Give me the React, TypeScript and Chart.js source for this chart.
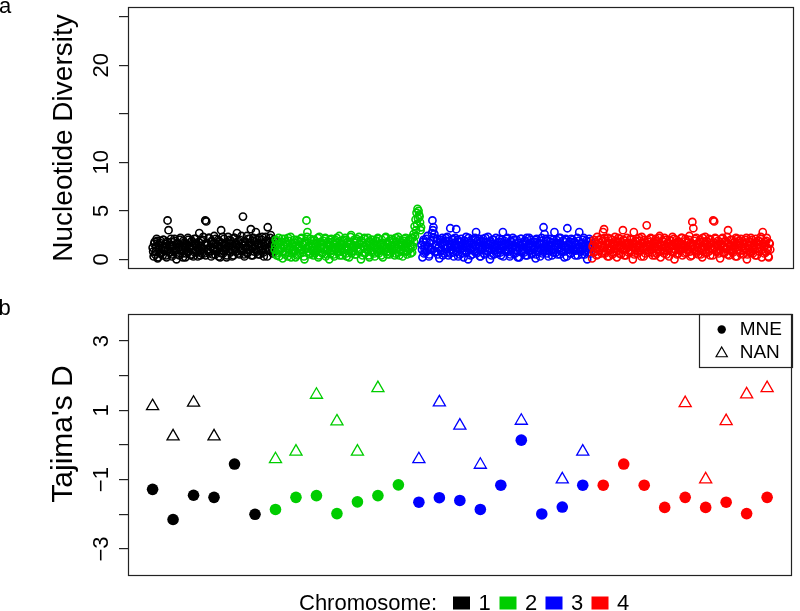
import React, { useEffect, useRef } from "react";
import { Chart, registerables } from "chart.js";

Chart.register(...registerables);

const FONT = '"Liberation Sans", Arial, Helvetica, sans-serif';

// ---- Panel a: nucleotide diversity per window, two interleaved window sets per chromosome ----
const piChr1 = [
  1.2, 0.3, 1.8, 0.8, 2.1, 0.1, 1.5, 0.6, 1.9, 1.1, 0.4, 2.0, 0.9, 1.6, 0.2, 4.0, 3.0, 1.3, 0.7, 1.8,
  0.5, 1.4, 2.1, 0.9, 0.0, 1.7, 1.2, 0.4, 2.2, 1.0, 0.6, 1.9, 1.3, 0.2, 1.6, 0.8, 2.0, 1.1, 0.5, 1.8,
  1.4, 0.3, 2.1, 0.9, 1.6, 0.7, 1.2, 2.7, 0.4, 1.9, 1.0, 2.3, 0.6, 4.0, 3.9, 1.5, 0.8, 2.2, 1.3, 0.3,
  1.8, 1.1, 2.4, 0.5, 1.6, 0.9, 2.0, 1.3, 0.2, 3.0, 1.7, 0.6, 2.1, 1.0, 1.5, 0.4, 2.3, 1.2, 0.8, 1.9,
  0.3, 1.4, 2.2, 1.0, 1.7, 2.7, 0.6, 1.3, 2.0, 0.9, 1.6, 4.4, 0.5, 1.8, 1.2, 2.4, 0.7, 1.5, 2.1, 3.1,
  1.1, 0.4, 1.9, 1.3, 2.8, 0.8, 1.6, 2.2, 0.5, 1.4, 2.0, 1.0, 0.3, 1.7, 2.3, 1.2, 3.3, 0.9, 1.8, 2.5, 1.1, 0.6, 2.0,
];
const piChr1b = [
  0.8, 1.6, 0.5, 1.3, 1.9, 0.2, 1.0, 1.7, 0.6, 1.4, 2.0, 0.9, 1.2, 0.4, 1.8, 1.1, 0.7, 1.5, 2.1, 0.3,
  1.3, 0.8, 1.9, 1.0, 1.6, 0.5, 1.2, 2.0, 0.9, 1.4, 0.2, 1.7, 1.1, 0.6, 1.5, 2.2, 0.8, 1.3, 0.4, 1.9,
  1.0, 1.6, 0.7, 2.1, 1.2, 0.3, 1.8, 0.9, 1.4, 0.6, 2.0, 1.1, 1.5, 0.4, 1.7, 1.0, 2.2, 0.7, 1.3, 1.9,
  0.5, 1.6, 1.0, 2.1, 0.8, 1.4, 0.3, 1.8, 1.2, 0.6, 2.3, 0.9, 1.5, 1.1, 0.2, 1.7, 1.3, 2.0, 0.7, 1.0,
  1.6, 0.4, 2.2, 1.2, 0.8, 1.5, 1.9, 0.5, 1.1, 2.4, 0.9, 1.4, 0.3, 1.8, 1.2, 0.6, 2.1, 1.0, 1.7, 0.4,
  1.3, 2.2, 0.8, 1.5, 1.0, 2.0, 0.5, 1.6, 1.2, 0.9, 2.3, 0.7, 1.4, 1.1, 1.9, 0.3, 1.7, 1.0, 2.2, 1.3, 1.6, 0.8, 1.5,
];
const piChr2 = [
  1.0, 2.0, 0.4, 1.5, 2.2, 0.8, 1.2, 1.8, 0.1, 1.4, 2.1, 0.7, 1.6, 0.3, 1.9, 1.1, 2.3, 0.6, 1.3, 0.9,
  1.7, 0.2, 2.0, 1.2, 0.5, 1.8, 1.0, 2.2, 0.7, 1.5, 0.0, 1.9, 4.0, 2.8, 1.3, 0.6, 2.1, 1.0, 1.6, 0.4,
  2.0, 1.2, 0.8, 1.7, 0.2, 2.3, 1.1, 1.5, 0.6, 1.9, 1.3, 2.2, 0.5, 1.0, 1.8, 0.0, 1.4, 2.1, 0.9, 1.6,
  0.3, 2.0, 1.2, 1.7, 0.7, 2.4, 1.1, 1.5, 0.4, 1.9, 1.0, 2.2, 0.6, 1.3, 1.8, 0.2, 1.6, 2.5, 0.8, 1.2,
  2.0, 0.5, 1.4, 1.9, 0.9, 2.3, 1.1, 0.0, 1.7, 1.3, 2.1, 0.6, 1.5, 1.0, 2.2, 0.4, 1.8, 1.2, 0.7, 2.0,
  1.4, 0.3, 1.9, 1.1, 2.2, 0.6, 1.6, 1.0, 2.0, 0.2, 1.5, 1.3, 2.3, 0.8, 1.7, 1.1, 0.5, 2.1, 1.4, 0.9,
  1.8, 0.4, 2.2, 1.2, 1.6, 0.7, 2.0, 1.0, 1.5, 0.3, 1.9, 1.3, 2.2, 0.8, 1.6, 1.1, 2.0, 0.6, 1.4, 2.2,
  2.6, 3.4, 4.1, 4.8, 5.2, 5.0, 4.4, 3.0,
];
const piChr2b = [
  1.4, 0.6, 1.9, 1.0, 0.3, 1.7, 1.2, 2.1, 0.8, 1.5, 0.5, 1.8, 1.1, 2.2, 0.7, 1.3, 0.2, 1.6, 1.0, 2.0,
  0.9, 1.4, 0.4, 1.9, 1.2, 0.6, 2.1, 1.0, 1.5, 0.3, 1.7, 1.1, 2.3, 0.8, 1.4, 0.5, 1.9, 1.2, 0.9, 2.0,
  0.6, 1.6, 1.0, 2.2, 0.4, 1.3, 1.8, 0.7, 1.5, 1.1, 2.1, 0.3, 1.7, 0.9, 1.4, 2.0, 0.6, 1.2, 1.8, 0.5,
  1.5, 1.0, 2.2, 0.8, 1.3, 0.4, 1.9, 1.1, 1.6, 0.7, 2.0, 1.2, 0.3, 1.8, 1.0, 1.5, 2.3, 0.6, 1.4, 0.9,
  1.7, 0.5, 2.1, 1.2, 0.8, 1.6, 1.0, 1.9, 0.4, 1.3, 2.2, 0.7, 1.5, 1.1, 1.8, 0.2, 1.4, 2.0, 0.9, 1.6,
  0.6, 1.2, 1.9, 0.8, 2.1, 1.0, 1.5, 0.4, 1.7, 1.3, 0.9, 2.2, 1.1, 0.5, 1.6, 1.9, 0.7, 1.4, 1.0, 2.0,
  1.3, 0.6, 1.8, 1.1, 2.3, 0.4, 1.5, 1.0, 1.7, 0.8, 2.1, 1.2, 1.6, 0.5, 1.9, 1.0, 1.4, 2.2, 0.7, 1.3,
  1.8, 2.4, 3.0, 3.6, 4.2, 4.6, 3.8, 3.3,
];
const piChr3 = [
  1.5, 0.2, 2.0, 1.1, 0.7, 1.8, 2.4, 1.3, 0.5, 1.9, 1.0, 4.0, 3.3, 2.6, 1.4, 0.8, 2.1, 1.2, 0.1, 1.7,
  0.9, 2.2, 1.4, 0.6, 1.9, 1.1, 2.3, 0.4, 1.6, 3.2, 1.0, 2.0, 0.7, 1.5, 2.2, 3.1, 1.2, 0.3, 1.8, 1.0,
  2.1, 0.6, 1.4, 1.9, 0.9, 2.3, 1.2, 0.0, 1.7, 1.1, 2.0, 0.5, 1.5, 1.0, 2.2, 2.8, 0.8, 1.6, 1.3, 0.3,
  1.9, 1.1, 2.1, 0.6, 1.4, 1.8, 0.9, 2.3, 1.2, 0.0, 1.6, 1.0, 2.0, 0.5, 1.5, 2.2, 1.3, 0.7, 1.8, 1.1,
  0.4, 2.0, 2.8, 1.2, 1.6, 0.8, 2.1, 1.0, 1.5, 0.3, 1.9, 1.3, 2.2, 0.6, 1.4, 1.0, 2.0, 0.2, 1.7, 1.2,
  2.1, 0.7, 1.5, 1.1, 1.9, 0.4, 2.2, 1.3, 0.9, 1.6, 2.0, 0.5, 1.4, 1.0, 1.8, 0.1, 2.1, 1.2, 0.8, 1.6,
  1.1, 2.2, 0.6, 3.3, 2.6, 1.4, 0.9, 1.9, 0.3, 1.5, 2.1, 1.0, 1.7, 0.7, 2.8, 1.3, 2.0, 0.5, 1.6, 1.1,
  2.2, 0.8, 1.4, 1.9, 0.2, 1.2, 2.0, 3.2, 1.0, 1.6, 0.6, 2.1, 1.3, 0.9, 1.8, 0.4, 1.5, 2.2, 1.1, 2.8,
  1.0, 1.7, 0.5, 2.0, 1.3, 0.8, 1.9, 0.0, 1.4, 2.1, 1.1, 0.6,
];
const piChr3b = [
  1.0, 1.8, 0.6, 1.4, 2.1, 0.9, 1.3, 0.3, 1.7, 1.1, 2.7, 3.0, 2.2, 0.8, 1.5, 1.9, 0.5, 1.2, 2.0, 0.9,
  1.6, 0.4, 1.8, 1.1, 2.2, 0.7, 1.3, 1.9, 0.6, 1.5, 1.0, 2.1, 0.3, 1.7, 1.2, 0.8, 2.0, 1.4, 0.5, 1.8,
  1.1, 1.6, 0.2, 1.9, 1.3, 0.7, 1.5, 2.2, 1.0, 0.4, 1.7, 1.2, 2.0, 0.8, 1.4, 0.6, 1.9, 1.1, 2.1, 0.3,
  1.5, 1.0, 1.8, 0.5, 2.2, 1.3, 0.8, 1.6, 1.1, 1.9, 0.4, 1.4, 2.0, 0.9, 1.2, 0.6, 1.7, 1.0, 2.1, 0.7,
  1.5, 1.3, 0.3, 1.9, 1.0, 1.6, 2.2, 0.8, 1.2, 0.5, 1.8, 1.1, 1.4, 2.0, 0.6, 1.3, 0.9, 1.7, 0.2, 1.5,
  2.1, 1.0, 1.6, 0.7, 1.9, 1.2, 0.4, 1.4, 2.2, 0.9, 1.3, 0.6, 1.8, 1.1, 2.0, 0.5, 1.5, 1.0, 1.7, 0.3,
  1.9, 1.2, 0.8, 1.6, 1.1, 2.1, 0.6, 1.4, 0.9, 1.8, 1.3, 0.4, 2.0, 1.0, 1.5, 0.7, 1.7, 1.2, 2.2, 0.5,
  1.6, 1.0, 1.9, 0.8, 1.3, 2.1, 0.3, 1.5, 1.1, 1.8, 0.6, 1.4, 2.0, 1.0, 1.7, 0.9, 1.2, 0.4, 1.9, 1.3,
  0.8, 1.6, 1.1, 2.2, 0.5, 1.4, 1.0, 1.8, 0.7, 1.5, 1.9, 1.2,
];
const piChr4 = [
  0.1, 1.5, 2.0, 0.8, 1.2, 2.3, 0.5, 1.7, 1.0, 2.1, 1.4, 2.8, 3.1, 0.6, 1.9, 1.1, 2.2, 0.3, 1.6, 1.0,
  2.0, 0.7, 1.4, 2.3, 1.1, 0.2, 1.8, 1.3, 2.1, 0.5, 1.5, 3.0, 1.0, 1.9, 0.4, 2.2, 1.2, 1.7, 0.8, 2.0,
  1.3, 0.0, 2.8, 1.6, 1.0, 2.1, 0.6, 1.4, 1.9, 0.9, 2.3, 1.2, 0.3, 1.7, 1.1, 3.5, 2.0, 0.7, 1.5, 2.2,
  1.0, 0.4, 1.8, 1.3, 2.1, 0.6, 1.6, 1.1, 2.4, 0.2, 1.4, 1.9, 0.9, 2.2, 1.2, 0.5, 1.7, 1.0, 2.0, 1.4,
  0.8, 2.3, 1.1, 0.0, 1.6, 2.0, 1.3, 0.6, 1.8, 1.0, 2.2, 0.4, 1.5, 1.2, 2.1, 0.7, 1.7, 1.0, 2.4, 0.3,
  1.4, 3.85, 3.2, 1.9, 0.9, 2.2, 1.2, 0.5, 1.6, 2.0, 1.1, 0.2, 1.8, 1.3, 2.3, 0.7, 1.5, 1.0, 2.1, 0.4,
  1.7, 1.2, 4.0, 3.9, 2.2, 0.8, 1.4, 1.9, 1.0, 0.1, 1.6, 2.1, 1.3, 0.6, 1.8, 1.1, 2.3, 3.0, 0.4, 1.5,
  1.0, 2.0, 0.7, 1.7, 1.2, 2.2, 0.3, 1.5, 1.9, 0.9, 2.1, 1.3, 0.5, 1.6, 1.1, 2.0, 0.0, 1.4, 1.8, 0.8,
  2.2, 1.2, 0.6, 1.7, 1.0, 2.1, 0.4, 1.5, 1.9, 1.1, 2.3, 0.2, 2.8, 1.3, 1.8, 0.7, 2.2, 1.0, 0.2, 1.6,
];
const piChr4b = [
  1.3, 0.7, 1.8, 1.1, 0.4, 1.6, 2.0, 0.9, 1.4, 0.6, 1.9, 1.2, 2.2, 0.8, 1.5, 0.3, 1.7, 1.0, 2.1, 1.3,
  0.5, 1.6, 1.1, 1.9, 0.8, 1.4, 2.2, 0.6, 1.2, 1.8, 1.0, 2.0, 0.4, 1.5, 1.1, 1.7, 0.7, 1.3, 2.1, 0.9,
  1.6, 1.2, 0.5, 1.9, 1.0, 1.4, 0.8, 2.2, 1.3, 0.3, 1.7, 1.1, 2.0, 0.6, 1.5, 1.0, 1.8, 0.9, 1.3, 2.1,
  0.7, 1.6, 1.2, 0.4, 1.9, 1.0, 1.4, 2.2, 0.8, 1.5, 1.1, 1.8, 0.6, 1.3, 2.0, 0.9, 1.6, 0.3, 1.2, 1.9,
  1.4, 0.7, 2.1, 1.0, 1.5, 0.5, 1.8, 1.2, 0.9, 1.6, 2.2, 1.1, 1.4, 0.6, 1.9, 1.0, 1.3, 2.0, 0.8, 1.7,
  0.4, 1.5, 1.1, 2.1, 0.7, 1.6, 1.2, 0.9, 1.8, 0.5, 1.4, 2.2, 1.0, 1.6, 0.6, 1.9, 1.3, 0.8, 1.5, 2.0,
  1.1, 0.4, 1.7, 1.2, 2.1, 0.9, 1.4, 0.6, 1.8, 1.0, 1.5, 2.2, 0.7, 1.3, 1.9, 1.1, 0.5, 1.6, 1.0, 2.0,
  0.8, 1.4, 1.2, 1.8, 0.3, 1.5, 2.1, 1.0, 1.7, 0.6, 1.3, 1.9, 0.9, 1.6, 1.1, 2.2, 0.5, 1.4, 1.0, 1.8,
  0.7, 2.0, 1.2, 1.5, 0.4, 1.7, 1.1, 1.9, 0.8, 1.3, 2.1, 1.0, 1.6, 0.6, 1.4, 1.9, 1.2, 0.3, 1.7, 1.0,
];

const chromosomeNames = ["1", "2", "3", "4"];
const chromosomeColors = ["#000000", "#00CD00", "#0000FF", "#FF0000"];

const piTickValues = [0, 5, 10, 15, 20, 25];
const piTickLabels = ["0", "5", "10", "", "20", ""];

// ---- Panel b: Tajima's D per window (31 windows) ----
const windowChromosome = [
  1, 1, 1, 1, 1, 1,
  2, 2, 2, 2, 2, 2, 2,
  3, 3, 3, 3, 3, 3, 3, 3, 3,
  4, 4, 4, 4, 4, 4, 4, 4, 4,
];
const mneTajimaD = [
  -1.28, -2.15, -1.45, -1.51, -0.55, -2.0,
  -1.86, -1.51, -1.46, -1.98, -1.64, -1.46, -1.15,
  -1.65, -1.52, -1.6, -1.86, -1.16, 0.14, -1.99, -1.79, -1.16,
  -1.16, -0.55, -1.16, -1.8, -1.51, -1.8, -1.65, -1.98, -1.51,
];
const nanTajimaD: (number | null)[] = [
  1.12, 0.25, 1.22, 0.25, null, null,
  -0.41, -0.19, 1.45, 0.68, -0.19, 1.64, null,
  -0.41, 1.23, 0.56, -0.57, null, 0.7, null, -0.99, -0.19,
  null, null, null, null, 1.21, -0.99, 0.69, 1.46, 1.64,
];
const dTickValues = [-3, -2, -1, 0, 1, 2, 3];
const dTickLabels = ["\u22123", "", "\u22121", "", "1", "", "3"];
const populationNames = ["MNE", "NAN"];

function drawRotated(ctx: CanvasRenderingContext2D, text: string, x: number, y: number) {
  ctx.save();
  ctx.translate(x, y);
  ctx.rotate(-Math.PI / 2);
  ctx.fillText(text, 0, 0);
  ctx.restore();
}

function drawBox(ctx: CanvasRenderingContext2D, a: any) {
  ctx.save();
  ctx.strokeStyle = "#222";
  ctx.lineWidth = 1.2;
  ctx.strokeRect(Math.round(a.left) + 0.5, Math.round(a.top) + 0.5, Math.round(a.right - a.left) - 1, Math.round(a.bottom - a.top) - 1);
  ctx.restore();
}

export default function App() {
  const refA = useRef<HTMLCanvasElement>(null);
  const refB = useRef<HTMLCanvasElement>(null);

  useEffect(() => {
    // ---------------- Panel a ----------------
    const piSeries = [piChr1, piChr2, piChr3, piChr4];
    const piSeriesB = [piChr1b, piChr2b, piChr3b, piChr4b];
    let offset = 0;
    const datasetsA: any[] = [];
    piSeries.forEach((vals, c) => {
      const common = {
        label: chromosomeNames[c],
        pointStyle: "circle",
        pointRadius: 3.6,
        pointBorderWidth: 1.6,
        pointBorderColor: chromosomeColors[c],
        pointBackgroundColor: "rgba(0,0,0,0)",
        showLine: false,
        order: 4 - c,
      };
      datasetsA.push({ ...common, data: vals.map((v, i) => ({ x: offset + i, y: v })) });
      datasetsA.push({ ...common, data: piSeriesB[c].map((v, i) => ({ x: offset + i + 0.5, y: v })) });
      offset += vals.length;
    });
    const span = offset - 1;

    const pluginA = {
      id: "panelA",
      afterDraw(chart: any) {
        const ctx = chart.ctx as CanvasRenderingContext2D;
        const a = chart.chartArea;
        const ys = chart.scales.y;
        drawBox(ctx, a);
        ctx.save();
        ctx.fillStyle = "#000";
        ctx.textAlign = "center";
        ctx.textBaseline = "alphabetic";
        ctx.font = `22px ${FONT}`;
        piTickValues.forEach((v, i) => {
          if (!piTickLabels[i]) return;
          drawRotated(ctx, piTickLabels[i], 108, ys.getPixelForValue(v));
        });
        ctx.font = `28px ${FONT}`;
        drawRotated(ctx, "Nucleotide Diversity", 72, (a.top + a.bottom) / 2);
        ctx.textAlign = "left";
        ctx.font = `22px ${FONT}`;
        ctx.fillText("a", -1, 12.5);
        ctx.restore();
      },
    };

    const chartA = new Chart(refA.current!, {
      type: "scatter",
      data: { datasets: datasetsA },
      options: {
        animation: false,
        responsive: false,
        events: [],
        layout: { padding: { left: 0, top: 7, right: 1, bottom: 21 } },
        plugins: { legend: { display: false }, tooltip: { enabled: false } },
        scales: {
          x: { type: "linear", min: -0.04 * span, max: span * 1.04, display: false },
          y: {
            type: "linear",
            min: -1,
            max: 26,
            afterBuildTicks: (s: any) => {
              s.ticks = piTickValues.map((v) => ({ value: v }));
            },
            afterFit: (s: any) => {
              s.width = 128;
            },
            ticks: { display: false },
            grid: { drawOnChartArea: false, drawTicks: true, tickLength: 9, color: "#222", lineWidth: 1.2 },
            border: { display: false },
          },
        },
      } as any,
      plugins: [pluginA],
    });

    // ---------------- Panel b ----------------
    const xs = mneTajimaD.map((_, i) => i + 1);
    const winColors = windowChromosome.map((c) => chromosomeColors[c - 1]);
    const nanIdx = nanTajimaD.map((v, i) => (v === null ? -1 : i)).filter((i) => i >= 0);

    const pluginB = {
      id: "panelB",
      afterDraw(chart: any) {
        const ctx = chart.ctx as CanvasRenderingContext2D;
        const a = chart.chartArea;
        const ys = chart.scales.y;
        drawBox(ctx, a);
        ctx.save();
        ctx.fillStyle = "#000";
        ctx.textAlign = "center";
        ctx.textBaseline = "alphabetic";
        ctx.font = `22px ${FONT}`;
        dTickValues.forEach((v, i) => {
          if (!dTickLabels[i]) return;
          drawRotated(ctx, dTickLabels[i], 108, ys.getPixelForValue(v));
        });
        ctx.font = `30px ${FONT}`;
        drawRotated(ctx, "Tajima's D", 72, (a.top + a.bottom) / 2 - 11);
        ctx.textAlign = "left";
        ctx.font = `22px ${FONT}`;
        ctx.fillText("b", -1.5, 25);

        // population legend (top right inside plot)
        const bx = a.right - 93;
        const by = a.top;
        ctx.strokeStyle = "#222";
        ctx.lineWidth = 1.2;
        ctx.strokeRect(Math.round(bx) + 0.5, Math.round(by) + 0.5, 93, 53);
        ctx.font = `19px ${FONT}`;
        ctx.textBaseline = "middle";
        ctx.beginPath();
        ctx.arc(bx + 23, by + 15.5, 4.2, 0, Math.PI * 2);
        ctx.fillStyle = "#000";
        ctx.fill();
        ctx.fillText(populationNames[0], bx + 41, by + 16);
        const tx = bx + 23, ty = by + 39.5, r = 6.5;
        ctx.beginPath();
        ctx.moveTo(tx, ty - r);
        ctx.lineTo(tx + r * 0.866, ty + r * 0.5);
        ctx.lineTo(tx - r * 0.866, ty + r * 0.5);
        ctx.closePath();
        ctx.lineWidth = 1.2;
        ctx.strokeStyle = "#000";
        ctx.stroke();
        ctx.fillText(populationNames[1], bx + 41, by + 39);

        // chromosome legend (bottom)
        ctx.textBaseline = "alphabetic";
        ctx.font = `22px ${FONT}`;
        ctx.fillText("Chromosome:", 299, 320);
        const sqX = [453, 499.5, 545.5, 591.5];
        chromosomeNames.forEach((name, i) => {
          ctx.fillStyle = chromosomeColors[i];
          ctx.fillRect(sqX[i], 306.5, 17, 13);
          ctx.fillStyle = "#000";
          ctx.fillText(name, sqX[i] + 25.5, 320);
        });
        ctx.restore();
      },
    };

    const chartB = new Chart(refB.current!, {
      type: "scatter",
      data: {
        datasets: [
          {
            label: populationNames[0],
            data: xs.map((x, i) => ({ x, y: mneTajimaD[i] })),
            pointStyle: "circle",
            pointRadius: 5.8,
            pointBorderWidth: 0,
            pointBackgroundColor: winColors,
            pointBorderColor: winColors,
          },
          {
            label: populationNames[1],
            data: nanIdx.map((i) => ({ x: xs[i], y: nanTajimaD[i] as number })),
            pointStyle: "triangle",
            pointRadius: 7,
            pointBorderWidth: 1.3,
            pointBorderColor: nanIdx.map((i) => winColors[i]),
            pointBackgroundColor: "rgba(0,0,0,0)",
          },
        ] as any,
      },
      options: {
        animation: false,
        responsive: false,
        events: [],
        layout: { padding: { left: 0, top: 24, right: 1, bottom: 35 } },
        plugins: { legend: { display: false }, tooltip: { enabled: false } },
        scales: {
          x: { type: "linear", min: -0.2, max: 32.2, display: false },
          y: {
            type: "linear",
            min: -3.78,
            max: 3.78,
            afterBuildTicks: (s: any) => {
              s.ticks = dTickValues.map((v) => ({ value: v }));
            },
            afterFit: (s: any) => {
              s.width = 128;
            },
            ticks: { display: false },
            grid: { drawOnChartArea: false, drawTicks: true, tickLength: 9, color: "#222", lineWidth: 1.2 },
            border: { display: false },
          },
        },
      } as any,
      plugins: [pluginB],
    });

    return () => {
      chartA.destroy();
      chartB.destroy();
    };
  }, []);

  return (
    <div style={{ position: "absolute", left: 0, top: 0, width: 800, height: 611, background: "#fff" }}>
      <canvas ref={refA} width={800} height={290} style={{ position: "absolute", left: 0, top: 0, display: "block" }} />
      <canvas ref={refB} width={800} height={321} style={{ position: "absolute", left: 0, top: 290, display: "block" }} />
    </div>
  );
}
